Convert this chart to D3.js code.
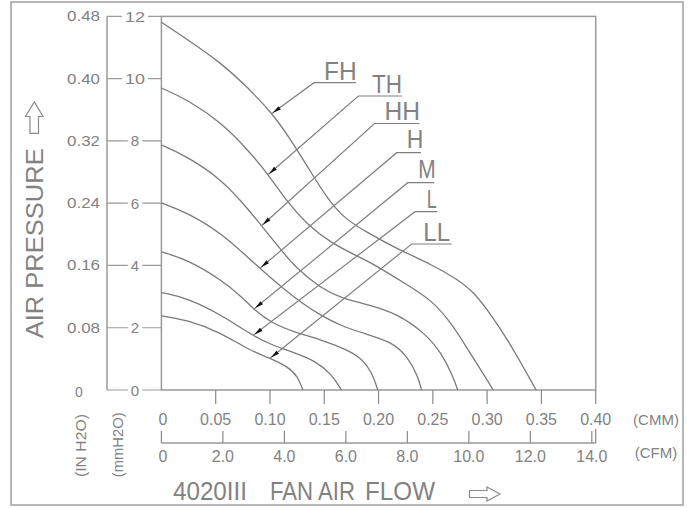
<!DOCTYPE html>
<html><head><meta charset="utf-8">
<script src="https://cdn.jsdelivr.net/npm/d3@7/dist/d3.min.js"></script>
<style>
html,body{margin:0;padding:0;background:#fff;}
svg{display:block;}
text{font-family:"Liberation Sans",Arial,sans-serif;fill:#828282;}
</style></head>
<body>
<svg id="chart" width="698" height="508"></svg>
<script>
// ---------- DATA ----------
const mmTicks = [0, 2, 4, 6, 8, 10, 12];
const mmLabels = ["0", "2", "4", "6", "8", "10", "12"];
const inLabels = ["0", "0.08", "0.16", "0.24", "0.32", "0.40", "0.48"];
const cmmTicks = [0, 0.05, 0.10, 0.15, 0.20, 0.25, 0.30, 0.35, 0.40];
const cmmLabels = ["0", "0.05", "0.10", "0.15", "0.20", "0.25", "0.30", "0.35", "0.40"];
const cfmTicks = [0, 2, 4, 6, 8, 10, 12, 14];
const cfmLabels = ["0", "2.0", "4.0", "6.0", "8.0", "10.0", "12.0", "14.0"];
const CFM_PER_CMM = 1 / 0.0283168;

const seriesNames = ["FH", "TH", "HH", "H", "M", "L", "LL"];

// air flow (CMM) and static pressure (mmH2O) for each curve
const fhFlow     = [0, 0.0248, 0.0555, 0.0800, 0.1018, 0.1183, 0.1368, 0.1533, 0.1690, 0.1874, 0.2177, 0.2490, 0.2730, 0.2886, 0.3043, 0.3190, 0.3346, 0.3452];
const fhPressure = [11.81, 11.24, 10.49, 9.70, 8.90, 8.09, 7.05, 6.12, 5.50, 5.10, 4.52, 4.03, 3.55, 3.12, 2.38, 1.61, 0.66, 0];

const thFlow     = [0, 0.0245, 0.0555, 0.0797, 0.0981, 0.1137, 0.1349, 0.1567, 0.1782, 0.1920, 0.2269, 0.2488, 0.2672, 0.2822, 0.2978, 0.3055];
const thPressure = [9.70, 9.32, 8.58, 7.71, 6.94, 6.14, 5.28, 4.72, 4.34, 4.11, 3.37, 2.89, 2.15, 1.30, 0.45, 0];

const hhFlow     = [0, 0.0244, 0.0555, 0.0739, 0.0923, 0.1073, 0.1230, 0.1475, 0.1659, 0.1883, 0.2177, 0.2426, 0.2580, 0.2684, 0.2730];
const hhPressure = [7.87, 7.49, 6.75, 6.05, 5.28, 4.62, 3.95, 3.25, 2.95, 2.76, 2.45, 1.83, 1.19, 0.45, 0];

const hFlow      = [0, 0.0244, 0.0555, 0.0889, 0.1107, 0.1291, 0.1475, 0.1659, 0.1883, 0.2119, 0.2269, 0.2361, 0.2396];
const hPressure  = [6.01, 5.69, 5.04, 3.96, 3.30, 2.80, 2.38, 2.05, 1.80, 1.55, 1.07, 0.45, 0];

const mFlow      = [0, 0.0244, 0.0555, 0.0739, 0.0861, 0.1015, 0.1230, 0.1475, 0.1720, 0.1846, 0.1938, 0.1993];
const mPressure  = [4.44, 4.18, 3.53, 3.00, 2.55, 2.15, 1.85, 1.61, 1.28, 1.00, 0.58, 0];

const lFlow      = [0, 0.0244, 0.0555, 0.0846, 0.1015, 0.1230, 0.1414, 0.1567, 0.1659];
const lPressure  = [3.13, 2.95, 2.41, 1.73, 1.45, 1.19, 0.94, 0.52, 0];

const llFlow     = [0, 0.0244, 0.0555, 0.0797, 0.0999, 0.1165, 0.1257, 0.1303];
const llPressure = [2.38, 2.25, 1.83, 1.30, 1.02, 0.75, 0.43, 0];

// flow (CMM) where each label's pointer touches its curve
const pointerFlow = [0.1015, 0.0981, 0.0923, 0.0908, 0.0853, 0.0846, 0.0999];

// ---------- LAYOUT ----------
const svg = d3.select("#chart");
const LINE = "#8a8a8a";
const PL = 161.4, PR = 595.7, PT = 16.4, PB = 390;

const x = d3.scaleLinear().domain([0, 0.4]).range([PL, PR]);
const xCfm = d3.scaleLinear().domain([0, 0.4 * CFM_PER_CMM]).range([PL, PR]);
const y = d3.scaleLinear().domain([0, 12]).range([PB, PT]);

// outer border
svg.append("rect").attr("x", 11).attr("y", 2).attr("width", 672).attr("height", 503)
  .attr("fill", "none").attr("stroke", "#a0a0a0").attr("stroke-width", 1.5);

// plot frame
svg.append("rect").attr("x", PL).attr("y", PT).attr("width", PR - PL).attr("height", PB - PT)
  .attr("fill", "none").attr("stroke", "#9a9a9a").attr("stroke-width", 1.5);

// outer pressure axis line
svg.append("line").attr("x1", 107).attr("x2", 107).attr("y1", y(12)).attr("y2", y(0))
  .attr("stroke", "#9a9a9a").attr("stroke-width", 1.5);

// y ticks with mmH2O labels
const ytLines = svg.append("g"), ytRects = svg.append("g"), ytText = svg.append("g");
mmTicks.forEach((v, i) => {
  const yy = y(v);
  ytLines.append("line").attr("x1", 107).attr("x2", PL).attr("y1", yy).attr("y2", yy)
    .attr("stroke", "#9a9a9a").attr("stroke-width", 1.2);
  const lab = mmLabels[i];
  const t = ytText.append("text").attr("x", 135).attr("y", yy + 5.5).attr("text-anchor", "middle")
    .attr("font-size", 15).text(lab);
  if (lab.length > 1) t.attr("textLength", 20).attr("lengthAdjust", "spacingAndGlyphs");
  const bb = t.node().getBBox();
  ytRects.append("rect").attr("x", bb.x - 3).attr("y", yy - 3).attr("width", bb.width + 6).attr("height", 6)
    .attr("fill", "#fff");
  // inch labels
  const il = inLabels[i];
  const ti = ytText.append("text").attr("y", yy + 5).attr("font-size", 14).text(il);
  if (il.length > 1) ti.attr("x", 100).attr("text-anchor", "end").attr("textLength", 33).attr("lengthAdjust", "spacingAndGlyphs");
  else ti.attr("x", 79).attr("y", yy + 7).attr("text-anchor", "middle");
});

// CMM axis ticks (down from plot bottom)
const xa = svg.append("g");
cmmTicks.forEach((v, i) => {
  if (v > 0) xa.append("line").attr("x1", x(v)).attr("x2", x(v)).attr("y1", PB).attr("y2", 404)
    .attr("stroke", LINE).attr("stroke-width", 1.2);
  xa.append("text").attr("x", x(v) + (v === 0 ? 1.5 : 0)).attr("y", 424.5).attr("text-anchor", "middle")
    .attr("font-size", 16).text(cmmLabels[i]);
});
xa.append("text").attr("x", 656).attr("y", 424.5).attr("text-anchor", "middle").attr("font-size", 15).text("(CMM)");

// CFM axis
xa.append("line").attr("x1", PL).attr("x2", PR).attr("y1", 443).attr("y2", 443)
  .attr("stroke", "#9a9a9a").attr("stroke-width", 1.5);
cfmTicks.forEach((v, i) => {
  xa.append("line").attr("x1", xCfm(v)).attr("x2", xCfm(v)).attr("y1", 431).attr("y2", 443)
    .attr("stroke", LINE).attr("stroke-width", 1.2);
  xa.append("text").attr("x", xCfm(v) + (v === 0 ? 1.5 : 0)).attr("y", 462).attr("text-anchor", "middle")
    .attr("font-size", 16).text(cfmLabels[i]);
});
xa.append("line").attr("x1", PR).attr("x2", PR).attr("y1", 429).attr("y2", 443)
  .attr("stroke", LINE).attr("stroke-width", 1.2);
xa.append("text").attr("x", 656).attr("y", 458).attr("text-anchor", "middle").attr("font-size", 15).text("(CFM)");

// axis titles
svg.append("text").attr("x", 173).attr("y", 500).attr("font-size", 25)
  .attr("textLength", 74).attr("lengthAdjust", "spacingAndGlyphs").text("4020III");
svg.append("text").attr("x", 270).attr("y", 500).attr("font-size", 25)
  .attr("textLength", 85).attr("lengthAdjust", "spacingAndGlyphs").text("FAN AIR");
svg.append("text").attr("x", 365).attr("y", 500).attr("font-size", 25)
  .attr("textLength", 70).attr("lengthAdjust", "spacingAndGlyphs").text("FLOW");
svg.append("path").attr("d", "M469.5,490.5 L487,490.5 L487,487 L500,494 L487,501 L487,497.5 L469.5,497.5 Z")
  .attr("fill", "none").attr("stroke", "#8a8a8a").attr("stroke-width", 1.2);

svg.append("text").attr("transform", "translate(43.3,338.3) rotate(-90)").attr("font-size", 24)
  .attr("textLength", 190).attr("lengthAdjust", "spacingAndGlyphs").text("AIR PRESSURE");
svg.append("path").attr("d", "M30,133.3 L30,116.5 L25.5,116.5 L34.3,102 L43,116.5 L38.5,116.5 L38.5,133.3 Z")
  .attr("fill", "none").attr("stroke", "#8a8a8a").attr("stroke-width", 1.2);

svg.append("text").attr("transform", "translate(86,477) rotate(-90)").attr("font-size", 14)
  .attr("textLength", 63).attr("lengthAdjust", "spacingAndGlyphs").text("(IN H2O)");
svg.append("text").attr("transform", "translate(123,477.3) rotate(-90)").attr("font-size", 14)
  .attr("textLength", 65).attr("lengthAdjust", "spacingAndGlyphs").text("(mmH2O)");

// ---------- CURVES ----------
const series = [
  [fhFlow, fhPressure], [thFlow, thPressure], [hhFlow, hhPressure], [hFlow, hPressure],
  [mFlow, mPressure], [lFlow, lPressure], [llFlow, llPressure]
];
const line = d3.line().x(d => x(d[0])).y(d => y(d[1])).curve(d3.curveBasis);
const curveG = svg.append("g");
const paths = series.map(([f, p]) => {
  const pts = f.map((v, i) => [v, p[i]]);
  return curveG.append("path").attr("d", line(pts)).attr("fill", "none")
    .attr("stroke", "#7a7a7a").attr("stroke-width", 1.3).node();
});

function pointAtX(path, px) {
  const L = path.getTotalLength();
  let lo = 0, hi = L;
  for (let k = 0; k < 40; k++) {
    const mid = (lo + hi) / 2;
    if (path.getPointAtLength(mid).x < px) lo = mid; else hi = mid;
  }
  return path.getPointAtLength((lo + hi) / 2);
}

// label layout: elbow point, underline end, text left, text baseline, text width
const labelLayout = [
  {ex: 314,   ey: 82.7,  ux: 356,   tx: 324,   ty: 79.5,  tw: 32.7},
  {ex: 358.3, ey: 96,    ux: 401.7, tx: 372,   ty: 93,    tw: 30},
  {ex: 374.5, ey: 123.5, ux: 419.5, tx: 384.5, ty: 120,   tw: 35.5},
  {ex: 396.7, ey: 152.7, ux: 421,   tx: 406.7, ty: 148.3, tw: 16.6},
  {ex: 407.7, ey: 182.7, ux: 434.3, tx: 418.3, ty: 178.3, tw: 17.4},
  {ex: 415,   ey: 211.7, ux: 437.5, tx: 426.7, ty: 208.3, tw: 10},
  {ex: 411.7, ey: 244,   ux: 451.7, tx: 423.3, ty: 240.7, tw: 26.7}
];
const labG = svg.append("g");
seriesNames.forEach((name, i) => {
  const lay = labelLayout[i];
  const tip = pointAtX(paths[i], x(pointerFlow[i]));
  labG.append("polyline")
    .attr("points", `${tip.x},${tip.y} ${lay.ex},${lay.ey} ${lay.ux},${lay.ey}`)
    .attr("fill", "none").attr("stroke", "#808080").attr("stroke-width", 1.2);
  const dx = lay.ex - tip.x, dy = lay.ey - tip.y, len = Math.hypot(dx, dy);
  const ux = dx / len, uy = dy / len, nx = -uy, ny = ux;
  const bx = tip.x + ux * 10, by = tip.y + uy * 10;
  labG.append("path")
    .attr("d", `M${tip.x + ux * 1.5},${tip.y + uy * 1.5} L${bx + nx * 2},${by + ny * 2} L${bx - nx * 2},${by - ny * 2} Z`)
    .attr("fill", "#111");
  labG.append("text").attr("x", lay.tx).attr("y", lay.ty).attr("font-size", 26)
    .attr("textLength", lay.tw).attr("lengthAdjust", "spacingAndGlyphs").text(name);
});
</script>
</body></html>
